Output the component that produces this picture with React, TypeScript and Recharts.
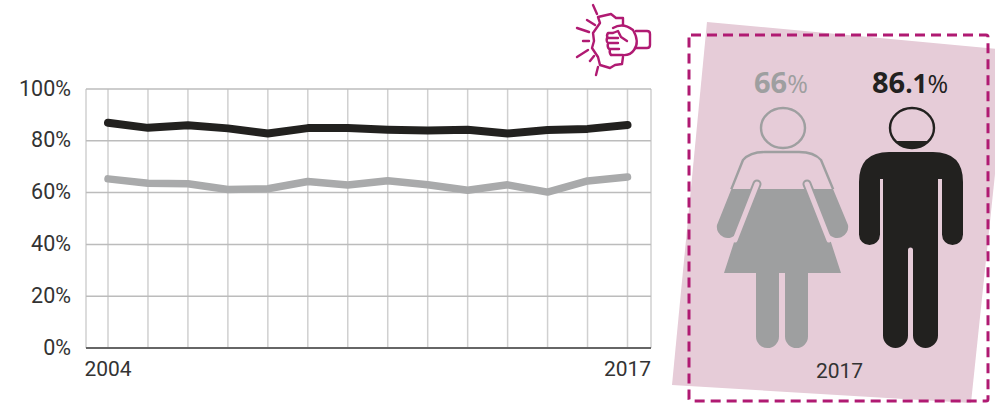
import { CartesianGrid, Line, LineChart, XAxis, YAxis } from 'recharts';

const years = [2004, 2005, 2006, 2007, 2008, 2009, 2010, 2011, 2012, 2013, 2014, 2015, 2016, 2017];
const men = [87, 85, 86, 84.8, 82.8, 84.9, 84.9, 84.3, 84, 84.3, 82.8, 84.2, 84.6, 86.1];
const women = [65.3, 63.6, 63.4, 61.2, 61.5, 64.3, 62.9, 64.6, 63, 60.9, 63, 60.2, 64.5, 66];
const yTicks = [0, 20, 40, 60, 80, 100];
const labelledYears = [2004, 2017];

const chartData = years.map((year, i) => ({ year, men: men[i], women: women[i] }));

const FONT = 'Roboto, sans-serif';
const MAGENTA = '#b01a72';
const PINK = '#e6ccd8';
const GREY = '#9e9fa0';
const BLACK = '#22211f';

const rays = [
  'M593 5L597 14',
  'M587 20L595 25',
  'M577 28L589 32',
  'M583 41L589 41',
  'M577 57L588 50',
  'M590 61L594 56',
  'M596 75L598 67',
];

function FistIcon() {
  return (
    <g fill="none" stroke={MAGENTA} strokeWidth={2.4} strokeLinecap="round" strokeLinejoin="round">
      {rays.map((d) => (
        <path key={d} d={d} />
      ))}
      <path d="M623 25L623 18L616 18L611 14L598 17L600 23L593 33L594 41L592 48L598 57L600 65L610 68L615 65L622 64L623 57" />
      <path d="M613 28Q623 22 633 30Q640 42 634 50Q630 56 622 55H611" />
      <path d="M636 31H647Q650 31 650 34V45Q650 48 647 48H636" />
      <path d="M613 33H608Q606 36 608 38H618M607 38Q606 41 608 43H618M608 43Q607 47 609 49H619M610 49Q609 53 611 55M613 33L618 31L621 37L627 41" />
    </g>
  );
}

function Woman() {
  const outline =
    'M765 152H799Q814 152 821 160L848 225A11 11 0 0 1 828 233L841 273H808V336.5A11.5 11.5 0 0 1 785 336.5V273H779V336.5A11.5 11.5 0 0 1 756 336.5V273H724L737 233A11 11 0 0 1 717 225L743 160Q750 152 765 152Z';
  return (
    <g>
      <defs>
        <clipPath id="womanFill">
          <rect x={700} y={189} width={170} height={170} />
        </clipPath>
        <clipPath id="womanTop">
          <rect x={700} y={140} width={170} height={49} />
        </clipPath>
      </defs>
      <ellipse cx={783} cy={128} rx={22} ry={20} fill="none" stroke={GREY} strokeWidth={2.4} />
      <path d={outline} fill="none" stroke={GREY} strokeWidth={2.4} clipPath="url(#womanTop)" />
      <path d={outline} fill={GREY} clipPath="url(#womanFill)" />
      <path d="M757 184L749 204M807 184L815 204" stroke={GREY} strokeWidth={9} strokeLinecap="round" />
      <path d="M757 184L735 240M807 184L829 240" stroke={PINK} strokeWidth={5} strokeLinecap="round" />
    </g>
  );
}

function Man() {
  const outline =
    'M889 152H933Q963 152 963 182V234.5A10.5 10.5 0 0 1 942 234.5V179H938V335.5A12.5 12.5 0 0 1 913 335.5V250A2.5 2.5 0 0 0 908 250V335.5A12.5 12.5 0 0 1 883 335.5V179H880V234.5A10.5 10.5 0 0 1 859 234.5V182Q859 152 889 152Z';
  return (
    <g>
      <defs>
        <clipPath id="manHead">
          <rect x={880} y={141} width={64} height={12} />
        </clipPath>
      </defs>
      <ellipse cx={912} cy={128} rx={22} ry={20} fill="none" stroke={BLACK} strokeWidth={2.4} />
      <ellipse cx={912} cy={128} rx={22} ry={20} fill={BLACK} clipPath="url(#manHead)" />
      <path d={outline} fill={BLACK} />
    </g>
  );
}

function Artwork() {
  return (
    <svg width={995} height={403} style={{ position: 'absolute', left: 0, top: 0 }}>
      <FistIcon />
      <polygon points="707,22 1008,50 971,403 672,385" fill={PINK} />
      <rect x={689} y={35} width={299} height={366} rx={2} fill="none" stroke={MAGENTA} strokeWidth={3} strokeDasharray="10 6" />
      <Woman />
      <Man />
      <text x={754} y={93} fontFamily="'Open Sans', sans-serif" fontSize={29} fontWeight={700} fill={GREY}>
        66<tspan fontWeight={400} fontSize={25}>%</tspan>
      </text>
      <text x={872} y={93} fontFamily="'Open Sans', sans-serif" fontSize={29} fontWeight={700} fill={BLACK}>
        86<tspan fontSize={26}>.1</tspan><tspan fontWeight={400} fontSize={25}>%</tspan>
      </text>
      <text x={839.5} y={378} textAnchor="middle" fontFamily={FONT} fontSize={21} fill="#333">
        2017
      </text>
    </svg>
  );
}

export default function App() {
  return (
    <div style={{ position: 'absolute', left: 0, top: 0, width: 995, height: 403, background: '#fff', overflow: 'hidden' }}>
      <Artwork />
      <div style={{ position: 'absolute', left: 0, top: 0 }}>
        <LineChart width={995} height={403} data={chartData} margin={{ top: 89, right: 344, bottom: 0, left: 0 }}>
          <CartesianGrid horizontal={false} stroke="#d0d0d0" strokeWidth={1.5} />
          <CartesianGrid vertical={false} stroke="#bcbcbc" strokeWidth={1.5} />
          <XAxis
            dataKey="year"
            height={55}
            interval={0}
            padding={{ left: 22, right: 23.5 }}
            tickLine={false}
            tickSize={0}
            tickMargin={13}
            tickFormatter={(v: number) => (labelledYears.includes(v) ? String(v) : '')}
            tick={{ fontSize: 21, fontFamily: FONT, fill: '#333' }}
            axisLine={{ stroke: '#666', strokeWidth: 2 }}
          />
          <YAxis
            width={86}
            domain={[0, 100]}
            ticks={yTicks}
            axisLine={false}
            tickLine={false}
            tickSize={0}
            tickMargin={15}
            tickFormatter={(v: number) => `${v}%`}
            tick={{ fontSize: 21.5, fontFamily: FONT, fill: '#333', dy: -1 }}
          />
          <Line
            type="linear"
            dataKey="women"
            stroke="#a9aaab"
            strokeWidth={7.5}
            strokeLinecap="round"
            strokeLinejoin="round"
            dot={false}
            isAnimationActive={false}
          />
          <Line
            type="linear"
            dataKey="men"
            stroke={BLACK}
            strokeWidth={8}
            strokeLinecap="round"
            strokeLinejoin="round"
            dot={false}
            isAnimationActive={false}
          />
        </LineChart>
      </div>
    </div>
  );
}
